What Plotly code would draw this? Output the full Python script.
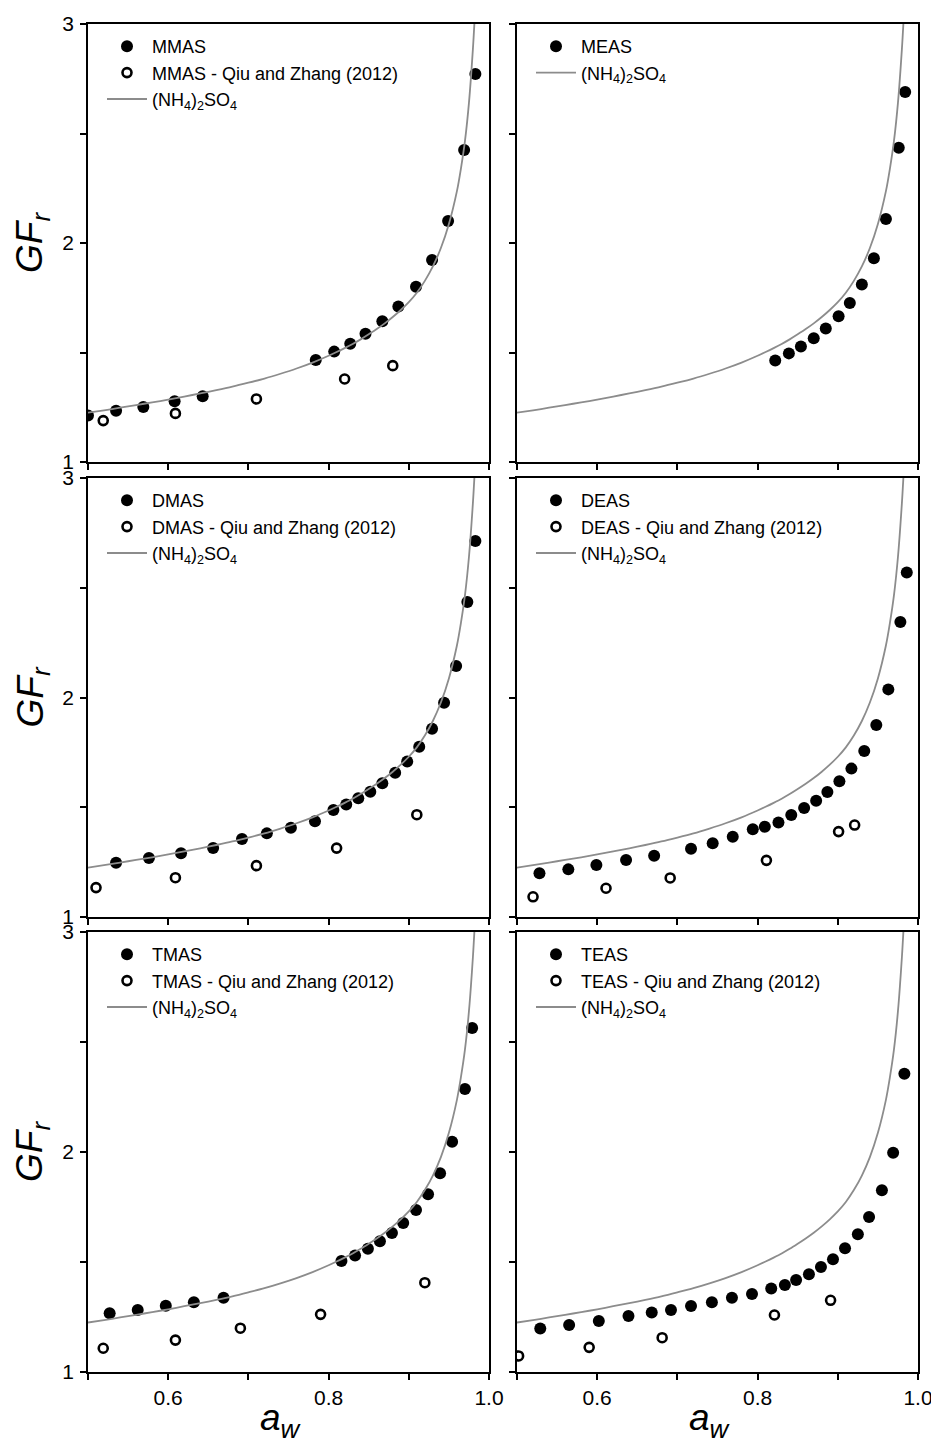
import plotly.graph_objects as go

# (NH4)2SO4 reference curve
AS_AW = [0.50, 0.52, 0.54, 0.56, 0.58, 0.60, 0.62, 0.64, 0.66, 0.68, 0.70, 0.72, 0.74, 0.76, 0.78,
         0.80, 0.81, 0.82, 0.83, 0.84, 0.85, 0.86, 0.87, 0.88, 0.89, 0.90, 0.91, 0.92, 0.93, 0.94, 0.95,
         0.96, 0.965, 0.97, 0.975, 0.98, 0.9825]
AS_GF = [1.225, 1.236, 1.248, 1.260, 1.272, 1.285, 1.299, 1.313, 1.328, 1.344, 1.362, 1.381, 1.403, 1.427, 1.454,
         1.485, 1.502, 1.520, 1.539, 1.560, 1.583, 1.607, 1.633, 1.662, 1.694, 1.730, 1.773, 1.827, 1.893, 1.977, 2.087,
         2.237, 2.340, 2.465, 2.640, 2.890, 3.050]

MMAS_AW = [0.500, 0.535, 0.569, 0.608, 0.643, 0.784, 0.807, 0.827, 0.846, 0.867, 0.887, 0.909, 0.929, 0.949, 0.969, 0.983]
MMAS_GF = [1.212, 1.234, 1.251, 1.277, 1.300, 1.466, 1.504, 1.540, 1.586, 1.643, 1.710, 1.800, 1.922, 2.100, 2.425, 2.772]
MMAS_Q_AW = [0.519, 0.609, 0.710, 0.820, 0.880]
MMAS_Q_GF = [1.189, 1.222, 1.288, 1.379, 1.440]

MEAS_AW = [0.822, 0.839, 0.854, 0.870, 0.885, 0.901, 0.915, 0.930, 0.945, 0.960, 0.976, 0.984]
MEAS_GF = [1.463, 1.496, 1.527, 1.565, 1.610, 1.665, 1.726, 1.810, 1.930, 2.110, 2.435, 2.690]

DMAS_AW = [0.535, 0.576, 0.616, 0.656, 0.692, 0.723, 0.753, 0.783, 0.806, 0.822, 0.837, 0.852, 0.867, 0.883, 0.898, 0.913, 0.929, 0.944, 0.959, 0.973, 0.983]
DMAS_GF = [1.247, 1.269, 1.290, 1.314, 1.355, 1.381, 1.407, 1.436, 1.487, 1.513, 1.541, 1.571, 1.609, 1.657, 1.708, 1.776, 1.858, 1.976, 2.143, 2.435, 2.713]
DMAS_Q_AW = [0.510, 0.609, 0.710, 0.810, 0.910]
DMAS_Q_GF = [1.134, 1.179, 1.234, 1.314, 1.466]

DEAS_AW = [0.528, 0.564, 0.599, 0.636, 0.671, 0.717, 0.744, 0.769, 0.794, 0.809, 0.826, 0.842, 0.858, 0.873, 0.887, 0.902, 0.917, 0.933, 0.948, 0.963, 0.978, 0.986]
DEAS_GF = [1.199, 1.217, 1.237, 1.260, 1.279, 1.311, 1.336, 1.366, 1.400, 1.411, 1.431, 1.465, 1.497, 1.530, 1.569, 1.618, 1.676, 1.756, 1.875, 2.037, 2.344, 2.569]
DEAS_Q_AW = [0.520, 0.611, 0.691, 0.811, 0.901, 0.921]
DEAS_Q_GF = [1.092, 1.131, 1.178, 1.258, 1.389, 1.419]

TMAS_AW = [0.527, 0.562, 0.597, 0.632, 0.669, 0.816, 0.833, 0.849, 0.864, 0.879, 0.893, 0.909, 0.924, 0.939, 0.954, 0.970, 0.979]
TMAS_GF = [1.267, 1.282, 1.301, 1.317, 1.338, 1.505, 1.530, 1.560, 1.594, 1.632, 1.677, 1.736, 1.808, 1.903, 2.047, 2.286, 2.564]
TMAS_Q_AW = [0.519, 0.609, 0.690, 0.790, 0.920]
TMAS_Q_GF = [1.108, 1.145, 1.199, 1.262, 1.406]

TEAS_AW = [0.529, 0.565, 0.602, 0.639, 0.668, 0.692, 0.717, 0.743, 0.768, 0.793, 0.817, 0.834, 0.848, 0.864, 0.879, 0.894, 0.909, 0.925, 0.939, 0.955, 0.969, 0.983]
TEAS_GF = [1.198, 1.214, 1.232, 1.255, 1.270, 1.282, 1.300, 1.317, 1.338, 1.355, 1.380, 1.395, 1.418, 1.444, 1.477, 1.512, 1.562, 1.626, 1.705, 1.826, 1.997, 2.356]
TEAS_Q_AW = [0.502, 0.590, 0.681, 0.821, 0.891]
TEAS_Q_GF = [1.073, 1.112, 1.156, 1.259, 1.326]

X_TICKS = [0.5, 0.6, 0.7, 0.8, 0.9, 1.0]
X_TICKTEXT = ["", "0.6", "", "0.8", "", "1.0"]
Y_TICKS = [1, 1.5, 2, 2.5, 3]
Y_TICKTEXT = ["1", "", "2", "", "3"]

AS_NAME = "(NH<sub>4</sub>)<sub>2</sub>SO<sub>4</sub>"

panels = [
    ("MMAS", MMAS_AW, MMAS_GF, MMAS_Q_AW, MMAS_Q_GF),
    ("MEAS", MEAS_AW, MEAS_GF, None, None),
    ("DMAS", DMAS_AW, DMAS_GF, DMAS_Q_AW, DMAS_Q_GF),
    ("DEAS", DEAS_AW, DEAS_GF, DEAS_Q_AW, DEAS_Q_GF),
    ("TMAS", TMAS_AW, TMAS_GF, TMAS_Q_AW, TMAS_Q_GF),
    ("TEAS", TEAS_AW, TEAS_GF, TEAS_Q_AW, TEAS_Q_GF),
]

# page body has an 8px margin: the figure starts 8px in from the top-left corner
W, H = 931, 1439
FONT = "Liberation Sans, Arial, sans-serif"

col_px = [(80, 481), (509, 910)]
row_px = [(16, 454), (470, 909), (924, 1364)]

fig = go.Figure()
layout = dict()
annotations = []

for i, (name, aw, gf, qaw, qgf) in enumerate(panels):
    r, c = divmod(i, 2)
    n = i + 1
    xa = "x" if n == 1 else f"x{n}"
    ya = "y" if n == 1 else f"y{n}"
    leg = "legend" if n == 1 else f"legend{n}"

    fig.add_trace(go.Scatter(x=aw, y=gf, mode="markers", name=name,
                             marker=dict(symbol="circle", size=12, color="black"),
                             xaxis=xa, yaxis=ya, legend=leg))
    if qaw is not None:
        fig.add_trace(go.Scatter(x=qaw, y=qgf, mode="markers",
                                 name=f"{name} - Qiu and Zhang (2012)",
                                 marker=dict(symbol="circle-open", size=9, color="black",
                                             line=dict(width=2.6, color="black")),
                                 xaxis=xa, yaxis=ya, legend=leg))
    fig.add_trace(go.Scatter(x=AS_AW, y=AS_GF, mode="lines", name=AS_NAME,
                             line=dict(color="#8c8c8c", width=1.8, shape="spline", smoothing=0.8),
                             xaxis=xa, yaxis=ya, legend=leg))

    x0, x1 = col_px[c]
    y0, y1 = row_px[r]
    axis_common = dict(showline=True, linecolor="black", linewidth=1.8, mirror=True,
                       ticks="outside", ticklen=6, tickwidth=1.5, tickcolor="black",
                       showgrid=False, zeroline=False, automargin=False,
                       tickfont=dict(family=FONT, size=21, color="black"))
    xkey = "xaxis" if n == 1 else f"xaxis{n}"
    ykey = "yaxis" if n == 1 else f"yaxis{n}"
    layout[xkey] = dict(axis_common, domain=[x0 / W, x1 / W], range=[0.5, 1.0],
                        tickvals=X_TICKS, ticktext=X_TICKTEXT, ticklabeloverflow="allow",
                        showticklabels=(r == 2), anchor=ya)
    layout[ykey] = dict(axis_common, domain=[1 - y1 / H, 1 - y0 / H], range=[1, 3],
                        tickvals=Y_TICKS, ticktext=Y_TICKTEXT, ticklabelstandoff=2,
                        ticklabeloverflow="allow",
                        showticklabels=(c == 0), anchor=xa)
    layout[leg] = dict(x=(x0 + 14) / W, y=1 - (y0 + 4) / H, xanchor="left", yanchor="top",
                       bgcolor="rgba(0,0,0,0)", borderwidth=0,
                       font=dict(family=FONT, size=18, color="black"),
                       itemwidth=40, tracegroupgap=0)

    if c == 0:
        annotations.append(dict(x=24 / W, y=1 - ((y0 + y1) / 2) / H, xref="paper", yref="paper",
                                text="<i>GF<sub>r</sub></i>", showarrow=False, textangle=-90,
                                font=dict(family=FONT, size=37, color="black"),
                                xanchor="center", yanchor="middle"))
    if r == 2:
        annotations.append(dict(x=((x0 + x1) / 2 - 7.5) / W, y=1 - 1412 / H, xref="paper", yref="paper",
                                text="<i>a<sub>w</sub></i>", showarrow=False,
                                font=dict(family=FONT, size=37, color="black"),
                                xanchor="center", yanchor="middle"))

fig.update_layout(width=W, height=H, margin=dict(l=0, r=0, t=0, b=0, autoexpand=False),
                  paper_bgcolor="white", plot_bgcolor="white",
                  showlegend=True, annotations=annotations, **layout)

fig.write_html("out.html")
